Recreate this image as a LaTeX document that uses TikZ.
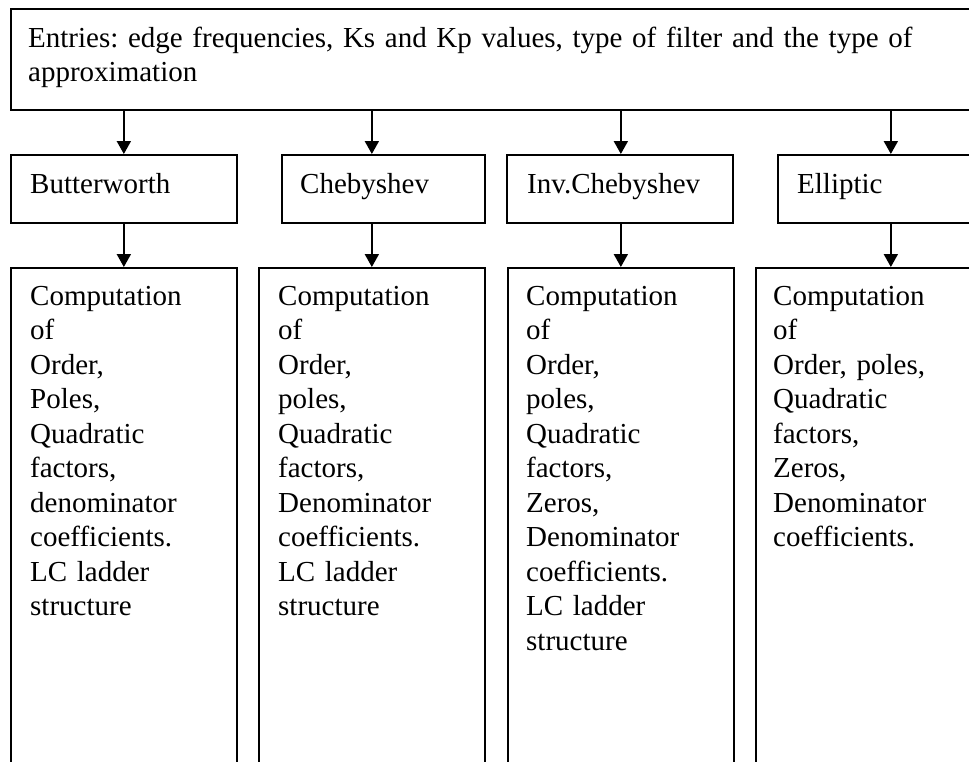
\documentclass[tikz,border=0pt]{standalone}
\usepackage{fontspec}
\setmainfont{Liberation Serif}
\usetikzlibrary{arrows.meta}
\frenchspacing

\begin{document}
\begin{tikzpicture}[x=1pt, y=-1pt]
		\tikzstyle{every node} = [font=\fontsize{29}{34.5}\selectfont]
		\tikzstyle{box} = [draw, line width=1.7pt, shape=rectangle, inner sep=0pt, anchor=north west]
		\tikzstyle{txt} = [anchor=base west, inner sep=0pt, align=left, text width=250pt]
		\tikzstyle{flow} = [line width=2pt, -{Triangle[length=13pt, width=14pt]}]
		\useasboundingbox (0,0) rectangle (969,761);
		\clip (0,0) rectangle (969,761);
		% entries
		\node[box, line width=2pt, minimum width=1000pt, minimum height=101pt] (entries) at (10,8) {};
		\node[txt, text width=940pt] (entriestxt) at ([shift={(18,39)}]entries.north west) {Entries: edge frequencies, Ks and Kp values, type of filter and the type of\\approximation};
		% type of approximation
		\node[box, minimum width=226pt, minimum height=68pt] (butter) at (10,154) {};
		\node[box, minimum width=203pt, minimum height=68pt] (cheby) at (281,154) {};
		\node[box, minimum width=226pt, minimum height=68pt] (invcheby) at (506,154) {};
		\node[box, minimum width=226pt, minimum height=68pt] (ellip) at (777,154) {};
		\node[txt] (buttertxt) at ([shift={(20,39)}]butter.north west) {Butterworth};
		\node[txt] (chebytxt) at ([shift={(19,39)}]cheby.north west) {Chebyshev};
		\node[txt] (invchebytxt) at ([shift={(21,39)}]invcheby.north west) {Inv.Chebyshev};
		\node[txt] (elliptxt) at ([shift={(20,39)}]ellip.north west) {Elliptic};
		% computations
		\node[box, minimum width=226pt, minimum height=520pt] (comp1) at (10,267) {};
		\node[box, minimum width=226pt, minimum height=520pt] (comp2) at (258,267) {};
		\node[box, minimum width=226pt, minimum height=520pt] (comp3) at (507,267) {};
		\node[box, minimum width=270pt, minimum height=520pt] (comp4) at (755,267) {};
		\node[txt] (comp1txt) at ([shift={(20,38)}]comp1.north west) {Computation\\of\\Order,\\Poles,\\Quadratic\\factors,\\denominator\\coefficients.\\LC ladder\\structure};
		\node[txt] (comp2txt) at ([shift={(20,38)}]comp2.north west) {Computation\\of\\Order,\\poles,\\Quadratic\\factors,\\Denominator\\coefficients.\\LC ladder\\structure};
		\node[txt] (comp3txt) at ([shift={(19,38)}]comp3.north west) {Computation\\of\\Order,\\poles,\\Quadratic\\factors,\\Zeros,\\Denominator\\coefficients.\\LC ladder\\structure};
		\node[txt] (comp4txt) at ([shift={(18,38)}]comp4.north west) {Computation\\of\\Order, poles,\\Quadratic\\factors,\\Zeros,\\Denominator\\coefficients.};
		% arrows
		\draw [flow] (entries.south -| comp1.north) -- (butter.north -| comp1.north);
		\draw [flow] (entries.south -| comp2.north) -- (cheby.north -| comp2.north);
		\draw [flow] (entries.south -| comp3.north) -- (invcheby.north -| comp3.north);
		\draw [flow] (entries.south -| comp4.north) -- (ellip.north -| comp4.north);
		\draw [flow] (butter.south -| comp1.north) -- (comp1.north);
		\draw [flow] (cheby.south -| comp2.north) -- (comp2.north);
		\draw [flow] (invcheby.south -| comp3.north) -- (comp3.north);
		\draw [flow] (ellip.south -| comp4.north) -- (comp4.north);
	\end{tikzpicture}
\end{document}
